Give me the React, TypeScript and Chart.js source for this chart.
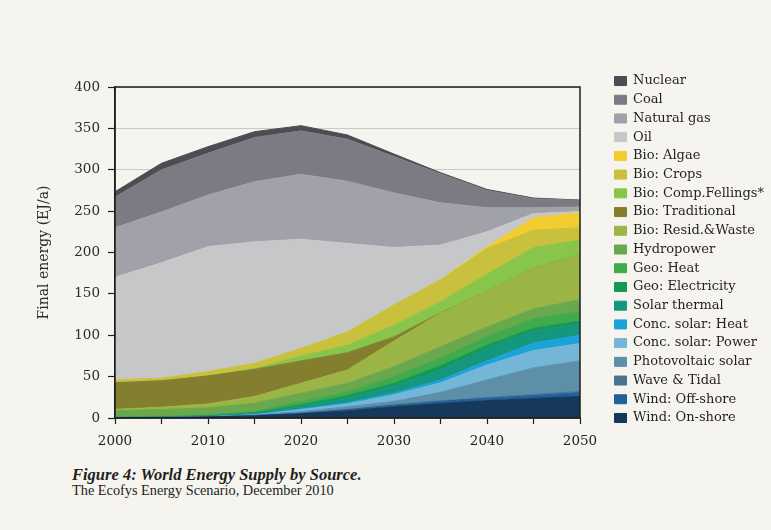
import React, { useEffect, useRef } from 'react';
import { Chart, registerables } from 'chart.js';

Chart.register(...registerables);

// ---- data (EJ/a), years 2000..2050 every 5 years ----
const years = ['2000', '2005', '2010', '2015', '2020', '2025', '2030', '2035', '2040', '2045', '2050'];

const windOnshore = [0.2, 0.5, 1.2, 2.5, 5, 8.5, 13.5, 17.5, 21, 23.5, 26];
const windOffshore = [0, 0, 0.1, 0.3, 0.7, 1.5, 2, 2.5, 2.8, 3.5, 4.5];
const waveTidal = [0, 0, 0, 0, 0.1, 0.3, 0.5, 0.8, 1, 1.5, 1.5];
const photovoltaic = [0, 0, 0.2, 0.8, 1.9, 3.4, 4, 10.2, 21.2, 32, 37];
const concSolarPower = [0, 0, 0, 0.3, 2.3, 3.3, 8, 11.5, 18, 21, 21];
const concSolarHeat = [0, 0, 0, 0.2, 1, 1.5, 2, 3.5, 5, 9, 10];
const solarThermal = [0.3, 0.5, 0.8, 1.5, 3, 5.5, 9, 12, 15, 15, 14];
const geoElectricity = [0.2, 0.3, 0.4, 0.8, 2, 3, 3, 5, 4, 3, 3];
const geoHeat = [0.3, 0.5, 0.6, 1.5, 4, 4.5, 8, 9.5, 10.5, 11.5, 11.5];
const hydropower = [8, 8.5, 9, 10.1, 10, 10.5, 12, 13.5, 11.5, 12, 14.5];
const bioResidWaste = [1.5, 2.7, 4.7, 8, 12, 16, 31, 40.5, 43, 49, 54];
const bioTraditional = [32.2, 32, 33.8, 32.8, 27, 21, 5, 0.5, 0, 0, 0];
const bioCompFellings = [0, 0, 0, 1, 6, 9, 14, 13.6, 21, 25, 18];
const bioCrops = [3.2, 3, 5.2, 6.2, 9, 16, 24.5, 26.4, 31, 21, 15];
const bioAlgae = [0, 0, 0, 0, 0, 0, 0, 0, 2, 15, 18];
const oil = [124.1, 139.7, 151, 147, 132, 107, 69.5, 42, 18, 5, 1.5];
const naturalGas = [60, 61.3, 62.5, 72.6, 78.5, 75, 66, 51, 29, 7, 5.5];
const coal = [37, 51, 50.5, 53.4, 52.5, 51, 44, 35, 21, 11, 8];
const nuclear = [6.5, 7.8, 7.9, 7, 6.3, 5, 3, 1.5, 1.2, 0.8, 0.4];

const yTicks = [0, 50, 100, 150, 200, 250, 300, 350, 400];

// bottom to top
const series = [
  { label: 'Wind: On-shore', data: windOnshore, color: '#15385b' },
  { label: 'Wind: Off-shore', data: windOffshore, color: '#20609a' },
  { label: 'Wave & Tidal', data: waveTidal, color: '#4b7493' },
  { label: 'Photovoltaic solar', data: photovoltaic, color: '#5d8fa9' },
  { label: 'Conc. solar: Power', data: concSolarPower, color: '#74b6d8' },
  { label: 'Conc. solar: Heat', data: concSolarHeat, color: '#1ba3d8' },
  { label: 'Solar thermal', data: solarThermal, color: '#15967f' },
  { label: 'Geo: Electricity', data: geoElectricity, color: '#139a52' },
  { label: 'Geo: Heat', data: geoHeat, color: '#40aa4d' },
  { label: 'Hydropower', data: hydropower, color: '#6aa84e' },
  { label: 'Bio: Resid.&Waste', data: bioResidWaste, color: '#9ab545' },
  { label: 'Bio: Traditional', data: bioTraditional, color: '#847f2f' },
  { label: 'Bio: Comp.Fellings*', data: bioCompFellings, color: '#89c54a' },
  { label: 'Bio: Crops', data: bioCrops, color: '#c9c03d' },
  { label: 'Bio: Algae', data: bioAlgae, color: '#f3cd2f' },
  { label: 'Oil', data: oil, color: '#c5c7c9' },
  { label: 'Natural gas', data: naturalGas, color: '#a1a2a9' },
  { label: 'Coal', data: coal, color: '#7b7c83' },
  { label: 'Nuclear', data: nuclear, color: '#4c4d52' },
];

const BG = '#f5f4ee';
const INK = '#1e1e1e';
const SERIF = "'DejaVu Serif', serif";

export default function App() {
  const ref = useRef<HTMLCanvasElement>(null);

  useEffect(() => {
    if (!ref.current) return;
    const framePlugin = {
      id: 'frame',
      afterDatasetsDraw(chart: any) {
        const { ctx, chartArea: a } = chart;
        ctx.save();
        ctx.strokeStyle = INK;
        ctx.lineWidth = 1.5;
        ctx.strokeRect(a.left, a.top, a.right - a.left, a.bottom - a.top);
        ctx.restore();
      },
    };

    const chart = new Chart(ref.current, {
      type: 'line',
      data: {
        labels: years,
        datasets: series.map((s, i) => ({
          label: s.label,
          data: s.data,
          backgroundColor: s.color,
          borderColor: s.color,
          borderWidth: 1,
          pointRadius: 0,
          pointHoverRadius: 0,
          tension: 0,
          fill: i === 0 ? 'origin' : '-1',
        })),
      },
      options: {
        animation: false,
        responsive: true,
        maintainAspectRatio: false,
        events: [],
        layout: { padding: { top: 68.8, left: 0, right: 0, bottom: 0 } },
        plugins: {
          tooltip: { enabled: false },
          title: {
            display: true,
            text: '',
            padding: 0,
            font: { size: 10, lineHeight: '18.2px' },
          },
          legend: {
            position: 'right',
            align: 'start',
            reverse: true,
            maxWidth: 162.2,
            labels: {
              boxWidth: 12,
              boxHeight: 9,
              padding: 5.72,
              color: '#231f20',
              font: { family: SERIF, size: 13 },
            },
          },
        },
        scales: {
          x: {
            type: 'category',
            grid: {
              drawOnChartArea: false,
              drawTicks: true,
              tickLength: 6,
              tickColor: INK,
              tickWidth: 1.2,
            },
            border: { display: true, color: INK, width: 1.5 },
            ticks: {
              autoSkip: false,
              maxRotation: 0,
              padding: 9,
              color: '#222222',
              font: { family: SERIF, size: 13.5 },
              callback: (_v: any, i: number) => (Number(years[i]) % 10 === 0 ? years[i] : ''),
            },
            afterFit: (s: any) => {
              s.height = 42;
            },
          },
          y: {
            stacked: true,
            min: yTicks[0],
            max: yTicks[yTicks.length - 1],
            ticks: {
              stepSize: 50,
              padding: 8,
              color: '#2b2b2b',
              font: { family: SERIF, size: 13.5 },
            },
            grid: {
              color: '#c9c9c6',
              lineWidth: 1,
              tickColor: INK,
              tickLength: 7,
              tickWidth: 1.2,
            },
            border: { display: true, color: INK, width: 1.5 },
            title: {
              display: true,
              text: 'Final energy (EJ/a)',
              color: '#2b2b2b',
              font: { family: SERIF, size: 14 },
              padding: { top: 35.6, bottom: 0 },
            },
            afterFit: (s: any) => {
              s.width = 115;
            },
          },
          yRight: {
            position: 'right',
            display: true,
            grid: { display: false },
            border: { display: false },
            ticks: { display: false },
            afterFit: (s: any) => {
              s.width = 28.8;
            },
          },
        },
      },
      plugins: [framePlugin],
    } as any);

    return () => chart.destroy();
  }, []);

  return (
    <div
      style={{
        position: 'fixed',
        left: 0,
        top: 0,
        width: 771,
        height: 530,
        background: BG,
        overflow: 'hidden',
      }}
    >
      <div style={{ position: 'absolute', left: 0, top: 0, width: 771, height: 460 }}>
        <canvas ref={ref} />
      </div>
      <div
        style={{
          position: 'absolute',
          left: 72,
          top: 466,
          fontFamily: "'Liberation Serif', serif",
          fontWeight: 'bold',
          fontStyle: 'italic',
          fontSize: 16.5,
          lineHeight: '18px',
          color: '#231f20',
          whiteSpace: 'nowrap',
        }}
      >
        Figure 4: World Energy Supply by Source.
      </div>
      <div
        style={{
          position: 'absolute',
          left: 72,
          top: 482,
          fontFamily: "'Liberation Serif', serif",
          fontSize: 14.3,
          lineHeight: '16px',
          color: '#231f20',
          whiteSpace: 'nowrap',
        }}
      >
        The Ecofys Energy Scenario, December 2010
      </div>
    </div>
  );
}
